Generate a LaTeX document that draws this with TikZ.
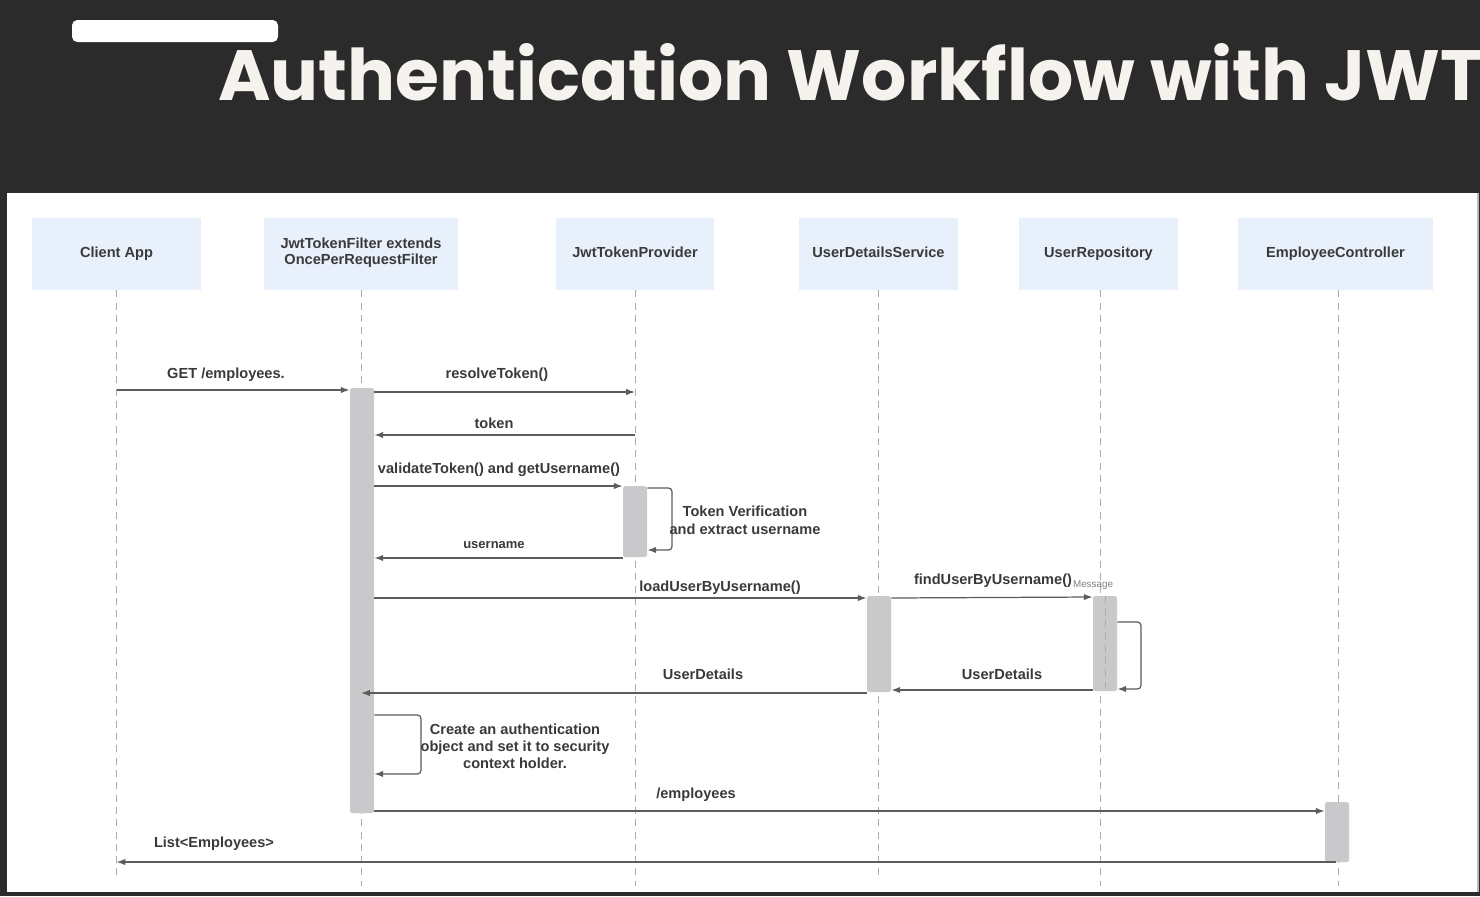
\documentclass[tikz,border=0pt]{standalone}
\usepackage{fontspec}
\setmainfont{Liberation Sans}
\newfontfamily\titlefont{Poppins}
\usetikzlibrary{arrows.meta,fit}

\definecolor{slate}{HTML}{2B2B2B}
\definecolor{titlewhite}{HTML}{F6F3EE}
\definecolor{headblue}{HTML}{E8F0FC}
\definecolor{barfill}{HTML}{C9C9CB}
\definecolor{ink}{HTML}{3A3A3A}
\definecolor{wire}{HTML}{5C5C5C}

\tikzset{
  head/.style={fill=headblue, inner sep=0pt},
  headtxt/.style={text=ink, font=\fontsize{8.3}{9.6}\selectfont\bfseries,
    align=center, inner sep=0pt, anchor=base, yshift=-1.8pt},
  life/.style={draw=gray!65, dash pattern=on 4pt off 3pt, line width=0.5pt},
  actbar/.style={fill=barfill, inner sep=0pt, rounded corners=1pt},
  msg/.style={draw=wire, line width=0.7pt, -{Latex[length=5pt,width=3.6pt]}},
  lbl/.style={text=ink, font=\fontsize{8.3}{10}\selectfont\bfseries, inner sep=0pt,
    align=center},
}

\begin{document}
\begin{tikzpicture}[x=0.02cm, y=-0.02cm]
\useasboundingbox (0,0) rectangle (1480,896);
\clip (0,0) rectangle (1480,896);

% slide frame
\fill[slate] (0,0) rectangle (1480,896);
\fill[white] (7,193) rectangle (1478,892);
\draw[gray!55, line width=0.6pt] (1478,193) -- (1478,892);
\fill[white, rounded corners=3pt] (72,20) rectangle (278,42);
\node[anchor=base west, text=titlewhite, inner sep=0pt,
  font=\titlefont\fontsize{40.5}{44}\selectfont\bfseries] (title) at (218,100)
  {Authentication Workflow with JWT};

% participants
\node[head, fit={(32,218) (201,290)}] (client) {};
\node[head, fit={(264,218) (458,290)}] (filter) {};
\node[head, fit={(556,218) (714,290)}] (provider) {};
\node[head, fit={(799,218) (958,290)}] (uds) {};
\node[head, fit={(1019,218) (1178,290)}] (repo) {};
\node[head, fit={(1238,218) (1433,290)}] (ctrl) {};
\node[headtxt] (clienttxt) at (client.center) {Client App};
\node[headtxt, yshift=-4.4pt] (filtertxt) at (filter.center) {JwtTokenFilter extends\\OncePerRequestFilter};
\node[headtxt] (providertxt) at (provider.center) {JwtTokenProvider};
\node[headtxt] (udstxt) at (uds.center) {UserDetailsService};
\node[headtxt] (repotxt) at (repo.center) {UserRepository};
\node[headtxt] (ctrltxt) at (ctrl.center) {EmployeeController};

% lifelines
\draw[life] (client.south) -- (client |- 0,876);
\draw[life] (filter.south) -- (filter |- 0,886);
\draw[life] (provider.south) -- (provider |- 0,886);
\draw[life] (uds.south) -- (uds |- 0,876);
\draw[life] ([xshift=1pt]repo.south) -- ([xshift=1pt]repo.south |- 0,886);
\draw[life] ([xshift=1.4pt]ctrl.south) -- ([xshift=1.4pt]ctrl.south |- 0,886);

% activations
\node[actbar, fit={(350,388) (374,813)}] (fbar) {};
\node[actbar, fit={(623,486) (647,557)}] (pbar) {};
\node[actbar, fit={(867,596) (891,692)}] (sbar) {};
\node[actbar, fit={(1093,596) (1117,691)}] (rbar) {};
\node[actbar, fit={(1325,802) (1349,862)}] (cbar) {};
\draw[life] (rbar.north) -- (rbar.south);

% messages
\draw[msg] (client |- 0,390) -- (fbar.west |- 0,390);
\node[lbl] (getlbl) at (226,375) {GET /employees.};
\draw[msg] (fbar.east |- 0,392) -- (provider |- 0,392);
\node[lbl] (resolvelbl) at (497,375) {resolveToken()};
\draw[msg] (provider |- 0,435) -- (fbar.east |- 0,435);
\node[lbl] (tokenlbl) at (494,423) {token};
\draw[msg] (fbar.east |- 0,486) -- (pbar.west |- 0,486);
\node[lbl] (validatelbl) at (499,470) {validateToken() and getUsername()};
\draw[msg, rounded corners=2pt] (pbar.east |- 0,488) -- (672,488) -- (672,550) -- (pbar.east |- 0,550);
\node[lbl, font=\fontsize{8.3}{10.2}\selectfont\bfseries] (verifylbl) at (745,520)
  {Token Verification\\and extract username};
\draw[msg] (pbar.west |- 0,558) -- (fbar.east |- 0,558);
\node[lbl, font=\fontsize{7.4}{9}\selectfont\bfseries] (userlbl) at (494,545) {username};
\draw[msg] (fbar.east |- 0,598) -- (sbar.west |- 0,598);
\node[lbl] (loadlbl) at (720,588) {loadUserByUsername()};
\draw[msg] (sbar.east |- 0,598) -- (rbar.west |- 0,597);
\node[lbl] (findlbl) at (993,581) {findUserByUsername()};
\node[lbl, text=gray, font=\fontsize{5.6}{6}\selectfont] (msglbl) at (1093,585) {Message};
\draw[msg, rounded corners=2pt] (rbar.east |- 0,622) -- (1141,622) -- (1141,689) -- (rbar.east |- 0,689);
\draw[msg] (rbar.west |- 0,690) -- (sbar.east |- 0,690);
\node[lbl] (rdetlbl) at (1002,674) {UserDetails};
\draw[msg] (sbar.west |- 0,693) -- (filter |- 0,693);
\node[lbl] (sdetlbl) at (703,674) {UserDetails};
\draw[msg, rounded corners=2pt] (fbar.east |- 0,715) -- (421,715) -- (421,774) -- (fbar.east |- 0,774);
\node[lbl, font=\fontsize{8.3}{9.6}\selectfont\bfseries] (authlbl) at (515,746)
  {Create an authentication\\object and set it to security\\context holder.};
\draw[msg] (fbar.east |- 0,811) -- (cbar.west |- 0,811);
\node[lbl] (emplbl) at (696,795) {/employees};
\draw[msg] (ctrl |- 0,862) -- (client |- 0,862);
\node[lbl] (listlbl) at (214,844) {List<Employees>};
\end{tikzpicture}
\end{document}
